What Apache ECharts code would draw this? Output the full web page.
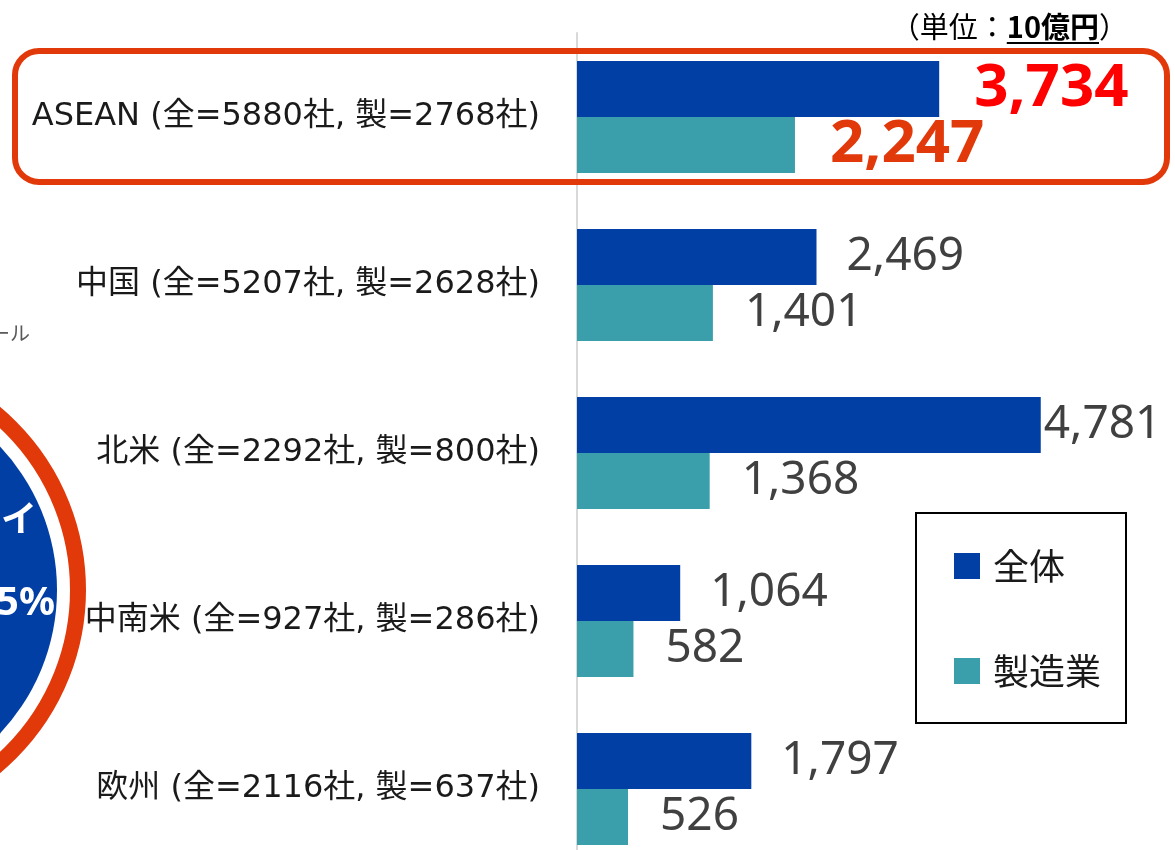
<!DOCTYPE html>
<html>
<head>
<meta charset="utf-8">
<script src="https://cdn.jsdelivr.net/npm/echarts@6/dist/echarts.min.js"></script>
<style>html,body{margin:0;padding:0;background:#fff;}#c{width:1175px;height:850px;}</style>
</head>
<body>
<div id="c"></div>
<script>
const categories = ['ASEAN (全=5880社, 製=2768社)', '中国 (全=5207社, 製=2628社)', '北米 (全=2292社, 製=800社)', '中南米 (全=927社, 製=286社)', '欧州 (全=2116社, 製=637社)'];
const seriesNames = ['全体', '製造業'];
const totalValues = [3734, 2469, 4781, 1064, 1797];
const mfgValues = [2247, 1401, 1368, 582, 526];
const unitPrefix = '（単位：';
const unitBold = '10億円';
const unitSuffix = '）';
const circleTexts = ['イ', '5%'];
const cutText = 'ール';

const fmt = v => v.toLocaleString('en-US');
const numFont = '"Noto Sans", sans-serif';
const cjkFont = '"DejaVu Sans", "Noto Sans CJK JP", sans-serif';

function buildData(values, hiColor) {
  return values.map((v, i) => {
    const item = { value: v };
    if (i === 0) {
      item.label = { fontSize: 60, fontWeight: 'bold', color: hiColor, distance: 35 };
    } else if (v === 4781) {
      item.label = { distance: 3 };
    }
    return item;
  });
}

const unitFont = '"Noto Sans CJK JP"';
const unitSize = 29;
const unitRight = 1128;
const suffixW = echarts.format.getTextRect(unitSuffix, unitSize + 'px ' + unitFont).width;
const boldW = echarts.format.getTextRect(unitBold, 'bold ' + unitSize + 'px ' + unitFont).width;

const chart = echarts.init(document.getElementById('c'));
chart.setOption({
  animation: false,
  backgroundColor: '#fff',
  grid: { left: 577, top: 33, width: 582, height: 840, containLabel: false, outerBoundsMode: 'none' },
  xAxis: { type: 'value', min: 0, max: 6000, show: false },
  yAxis: {
    type: 'category', data: categories, inverse: true,
    axisLine: { show: true, lineStyle: { color: '#d9d9d9', width: 2 } },
    axisTick: { show: false },
    axisLabel: { fontSize: 32, fontFamily: cjkFont, color: '#1a1a1a', margin: 37 }
  },
  legend: {
    data: seriesNames, orient: 'vertical', left: 916, top: 513,
    icon: 'rect', itemWidth: 26, itemHeight: 26, itemGap: 69,
    padding: [35, 25, 34, 38],
    borderColor: '#000', borderWidth: 2, backgroundColor: '#fff',
    textStyle: { fontSize: 36, lineHeight: 36, padding: [0, 0, 0, 8], fontFamily: '"Noto Sans CJK JP", sans-serif', color: '#1a1a1a' }
  },
  series: [
    {
      name: seriesNames[0], type: 'bar', barWidth: 56, barGap: '0%',
      itemStyle: { color: '#023FA5' },
      label: { show: true, position: 'right', distance: 30, fontSize: 46, fontFamily: numFont, color: '#404040', formatter: p => fmt(p.value) },
      data: buildData(totalValues, '#ff0000')
    },
    {
      name: seriesNames[1], type: 'bar', barWidth: 56, barGap: '0%',
      itemStyle: { color: '#3A9FAA' },
      label: { show: true, position: 'right', distance: 32, fontSize: 46, fontFamily: numFont, color: '#404040', formatter: p => fmt(p.value) },
      data: buildData(mfgValues, '#E2390B')
    }
  ],
  graphic: [
    { type: 'rect', shape: { x: 15, y: 51, width: 1152, height: 131, r: 24 }, style: { fill: 'none', stroke: '#E2390B', lineWidth: 6 }, z: 10 },
    { type: 'circle', shape: { cx: -152, cy: 590, r: 230 }, style: { fill: '#fff', stroke: '#E2390B', lineWidth: 16 }, z: 10 },
    { type: 'circle', shape: { cx: -152, cy: 590, r: 209 }, style: { fill: '#023FA5' }, z: 11 },
    { type: 'text', x: 37, y: 518, style: { text: circleTexts[0], align: 'right', verticalAlign: 'middle', fill: '#fff', font: 'bold 36px "Noto Sans CJK JP"' }, z: 12 },
    { type: 'text', x: 55, y: 604, style: { text: circleTexts[1], align: 'right', verticalAlign: 'middle', fill: '#fff', font: 'bold 40px "Noto Sans"' }, z: 12 },
    { type: 'text', x: 30, y: 333, style: { text: cutText, align: 'right', verticalAlign: 'middle', fill: '#595959', font: '20px "Noto Sans CJK JP"' }, z: 12 },
    { type: 'text', x: unitRight, y: 27, style: {
        text: '{a|' + unitPrefix + '}{b|' + unitBold + '}{a|' + unitSuffix + '}',
        align: 'right', verticalAlign: 'middle',
        rich: {
          a: { fontSize: unitSize, fontFamily: unitFont, color: '#262626' },
          b: { fontSize: unitSize, fontWeight: 'bold', fontFamily: unitFont, color: '#000' }
        }
      }, z: 12 },
    { type: 'line', shape: { x1: unitRight - suffixW - boldW, y1: 43, x2: unitRight - suffixW, y2: 43 }, style: { stroke: '#000', lineWidth: 2 }, z: 12 }
  ]
});
</script>
</body>
</html>
